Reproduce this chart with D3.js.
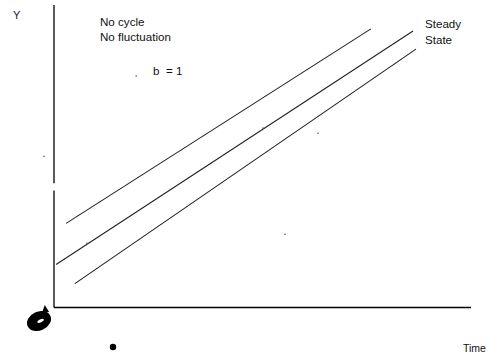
<!DOCTYPE html>
<html>
<head>
<meta charset="utf-8">
<script src="https://cdn.jsdelivr.net/npm/d3@7"></script>
<style>
  body { margin: 0; background: #fff; }
  svg { display: block; font-family: "Liberation Sans", Arial, sans-serif; }
</style>
</head>
<body>
<svg id="chart" width="488" height="356"></svg>
<script>
// data, in chart units (time 0..100, Y 0..100)
const lineNames = ["upper", "steady", "lower"];
const lineStarts = [[2.9, 27.8], [0.5, 14.2], [5.0, 7.9]];
const lineEnds = [[76.0, 92.1], [86.1, 91.4], [86.8, 85.4]];
const yAxisPieces = [[0, 38.7], [41.1, 100]];
const notes = ["No cycle", "No fluctuation"];
const stateLabel = ["Steady", "State"];
const bLabel = "b  = 1";
const specks = [[19.7, 76.5], [-2.4, 50.0], [50.1, 59.3], [63.3, 57.6], [55.4, 24.2], [7.9, 21.2]];

const svg = d3.select("#chart");

const x = d3.scaleLinear().domain([0, 100]).range([54, 471]);
const y = d3.scaleLinear().domain([0, 100]).range([307.5, 5]);

// y axis, drawn in pieces like the original sketch
svg.selectAll(".yaxis")
  .data(yAxisPieces)
  .join("line")
  .attr("x1", x(0)).attr("x2", x(0))
  .attr("y1", d => y(d[0])).attr("y2", d => y(d[1]))
  .attr("stroke", "#000").attr("stroke-width", 1.3);

// x axis
svg.append("line")
  .attr("x1", x(0)).attr("x2", x(100))
  .attr("y1", y(0)).attr("y2", y(0))
  .attr("stroke", "#000").attr("stroke-width", 1.3);

// the three trend lines
const line = d3.line().x(d => x(d[0])).y(d => y(d[1]));
svg.selectAll(".trend")
  .data(lineNames.map((n, i) => [lineStarts[i], lineEnds[i]]))
  .join("path")
  .attr("d", line)
  .attr("fill", "none")
  .attr("stroke", "#222")
  .attr("stroke-width", 1.1);

// stray specks
svg.selectAll(".speck")
  .data(specks)
  .join("circle")
  .attr("cx", d => x(d[0])).attr("cy", d => y(d[1]))
  .attr("r", 0.8).attr("fill", "#555");

// labels
svg.append("text").attr("x", 13).attr("y", 19)
  .attr("font-size", 11).attr("fill", "#222").text("Y");

svg.selectAll(".note")
  .data(notes)
  .join("text")
  .attr("x", 100).attr("y", (d, i) => 26 + i * 15)
  .attr("font-size", 11.6).attr("fill", "#111").text(d => d);

svg.append("text").attr("x", 153).attr("y", 75)
  .attr("font-size", 11.6).attr("fill", "#111")
  .style("white-space", "pre").text(bLabel);

svg.selectAll(".state")
  .data(stateLabel)
  .join("text")
  .attr("x", 425).attr("y", (d, i) => 28 + i * 15.5)
  .attr("font-size", 11.6).attr("fill", "#111").text(d => d);

svg.append("text").attr("x", 463).attr("y", 352)
  .attr("font-size", 10.5).attr("fill", "#111").text("Time");

// scribbled origin mark and dot
const g = svg.append("g").attr("transform", "translate(39,321) rotate(-25)");
g.append("ellipse").attr("rx", 12.5).attr("ry", 9.5).attr("fill", "#000");
g.append("path").attr("d", "M6,-6 L12,-12 L13,-4 Z").attr("fill", "#000");
g.append("ellipse").attr("cx", 1.5).attr("cy", 0.5).attr("rx", 3.5).attr("ry", 1.5).attr("fill", "#fff");

svg.append("circle").attr("cx", 113).attr("cy", 347).attr("r", 3.2).attr("fill", "#000");
</script>
</body>
</html>
